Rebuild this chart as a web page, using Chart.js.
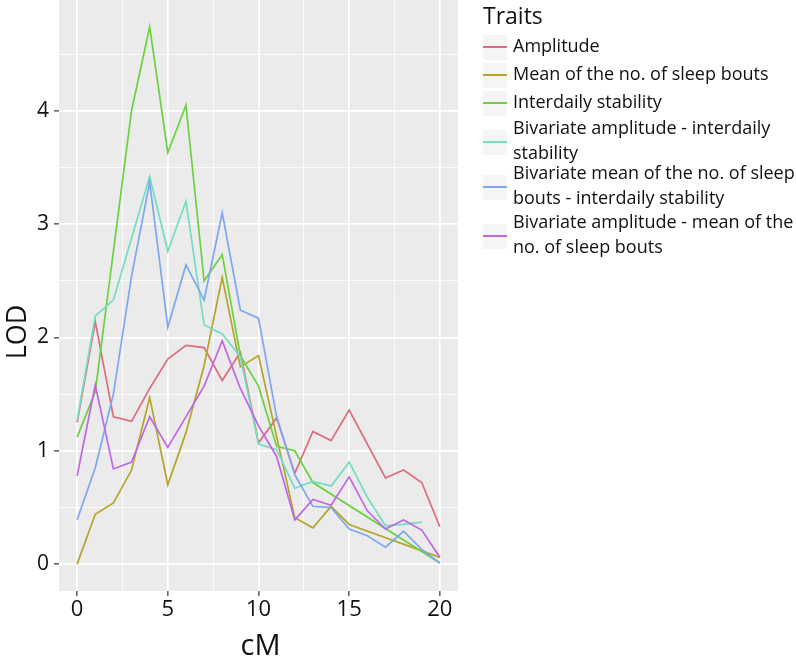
<!DOCTYPE html>
<html>
<head>
<meta charset="utf-8">
<script src="https://cdn.jsdelivr.net/npm/chart.js@4.4.0/dist/chart.umd.min.js"></script>
<style>
  html, body { margin: 0; padding: 0; background: #fff; }
  #wrap { position: relative; width: 796px; height: 656px; overflow: hidden; font-family: 'Open Sans', sans-serif; color: #111; }
  #wrap canvas { position: absolute; left: 0; top: 0; }
  .lg-title { position: absolute; left: 483px; top: 1px; font-size: 23px; line-height: 28px; }
  .lg-key { position: absolute; left: 483px; width: 24px; height: 25px; background: #f5f5f5; }
  .lg-key i { position: absolute; left: 0; right: 0; top: 11px; height: 2px; }
  .lg-text { position: absolute; left: 513px; font-size: 18px; line-height: 25px; white-space: pre; }
</style>
</head>
<body>
<div id="wrap">
  <canvas id="chart" width="796" height="656"></canvas>
  <div id="legend"></div>
</div>
<script>
// ------------------------------------------------------------
// data (LOD against cM)
// ------------------------------------------------------------
const cM = [0, 1, 2, 3, 4, 5, 6, 7, 8, 9, 10, 11, 12, 13, 14, 15, 16, 17, 18, 19, 20];

const amplitude     = [1.25, 2.14, 1.30, 1.26, 1.55, 1.81, 1.93, 1.91, 1.62, 1.87, 1.07, 1.29, 0.80, 1.17, 1.09, 1.36, null, 0.76, 0.83, 0.72, 0.33];
const meanBouts     = [0.00, 0.44, 0.54, 0.83, 1.47, 0.70, 1.16, 1.75, 2.53, 1.74, 1.84, null, 0.41, 0.32, 0.51, 0.35, null, null, null, null, 0.06];
const interdaily    = [1.12, 1.52, null, 4.00, 4.74, 3.63, 4.05, 2.50, 2.73, 1.84, 1.57, 1.04, 1.00, 0.72, null, null, null, null, null, null, 0.01];
const bivAmpInter   = [1.27, 2.19, 2.33, null, 3.42, 2.76, 3.20, 2.11, 2.03, 1.83, 1.06, 1.01, 0.67, 0.73, 0.69, 0.90, 0.59, 0.34, 0.35, 0.37, null];
const bivMeanInter  = [0.39, 0.85, 1.50, 2.54, 3.37, 2.09, 2.64, 2.33, 3.10, 2.24, 2.17, 1.30, 0.79, 0.51, 0.50, 0.31, 0.25, 0.15, 0.29, 0.13, 0.01];
const bivAmpMean    = [0.78, 1.58, 0.84, 0.90, 1.30, 1.03, null, 1.57, 1.97, 1.55, 1.22, 0.95, 0.39, 0.57, 0.52, 0.77, 0.47, 0.31, 0.39, 0.30, 0.06];

const traitNames = [
  'Amplitude',
  'Mean of the no. of sleep bouts',
  'Interdaily stability',
  'Bivariate amplitude - interdaily\nstability',
  'Bivariate mean of the no. of sleep\nbouts - interdaily stability',
  'Bivariate amplitude - mean of the\nno. of sleep bouts',
];

const xTicks = [0, 5, 10, 15, 20];
const xMinor = [2.5, 7.5, 12.5, 17.5];
const yTicks = [0, 1, 2, 3, 4];
const yMinor = [0.5, 1.5, 2.5, 3.5, 4.5];

// ------------------------------------------------------------
// styling
// ------------------------------------------------------------
const series = [amplitude, meanBouts, interdaily, bivAmpInter, bivMeanInter, bivAmpMean];
const colors = ['#de6c7c', '#b5a52a', '#6cd13f', '#72dec3', '#7da7f0', '#be68e8'];
const keyY   = [47, 75, 103, 142, 187, 236];

const datasets = series.map((vals, i) => ({
  label: traitNames[i],
  data: cM.map((x, j) => ({ x, y: vals[j] })).filter(p => p.y !== null),
  borderColor: colors[i],
  borderWidth: 1.7,
  pointRadius: 0,
  tension: 0,
  fill: false,
  order: series.length - i,
}));

const panelBg = {
  id: 'panelBg',
  beforeDraw(chart) {
    const { ctx, chartArea: a } = chart;
    ctx.save();
    ctx.fillStyle = '#ebebeb';
    ctx.fillRect(a.left, a.top, a.right - a.left, a.bottom - a.top);
    ctx.restore();
  }
};

const axisTitles = {
  id: 'axisTitles',
  afterDraw(chart) {
    const { ctx, chartArea: a } = chart;
    ctx.save();
    ctx.fillStyle = '#111';
    ctx.textAlign = 'center';
    ctx.textBaseline = 'alphabetic';
    ctx.font = '29px "Open Sans"';
    ctx.fillText('cM', (a.left + a.right) / 2 + 2, 655);
    ctx.translate(26, 332);
    ctx.rotate(-Math.PI / 2);
    ctx.font = '27px "Open Sans"';
    ctx.fillText('LOD', 0, 0);
    ctx.restore();
  }
};

function setTicks(major, minor) {
  return scale => {
    scale.ticks = major.concat(minor).sort((a, b) => a - b).map(v => ({ value: v }));
  };
}

function gridFor(major) {
  const isMajor = v => major.includes(v);
  return {
    color: '#ffffff',
    lineWidth: c => (c.tick && isMajor(c.tick.value) ? 1.7 : 0.8),
    tickColor: c => (c.tick && isMajor(c.tick.value) ? '#333333' : 'rgba(0,0,0,0)'),
    tickLength: 5,
    tickWidth: 1.2,
  };
}

new Chart(document.getElementById('chart'), {
  type: 'line',
  data: { datasets },
  options: {
    responsive: false,
    animation: false,
    events: [],
    layout: { padding: { left: 0, right: 338, top: 0, bottom: 0 } },
    plugins: { legend: { display: false }, tooltip: { enabled: false } },
    scales: {
      x: {
        type: 'linear',
        min: -1,
        max: 21,
        afterBuildTicks: setTicks(xTicks, xMinor),
        afterFit: s => { s.height = 65; s.paddingLeft = 0; s.paddingRight = 0; },
        grid: gridFor(xTicks),
        border: { display: false },
        ticks: {
          autoSkip: false,
          maxRotation: 0,
          padding: 1,
          color: '#111',
          font: { family: 'Open Sans', size: 22 },
          callback: v => (xTicks.includes(v) ? String(v) : ''),
        },
      },
      y: {
        type: 'linear',
        min: -0.237,
        max: 4.977,
        afterBuildTicks: setTicks(yTicks, yMinor),
        afterFit: s => { s.width = 59; s.paddingTop = 0; s.paddingBottom = 0; },
        grid: gridFor(yTicks),
        border: { display: false },
        ticks: {
          autoSkip: false,
          padding: 5,
          color: '#111',
          font: { family: 'Open Sans', size: 21 },
          callback: v => (yTicks.includes(v) ? String(v) : ''),
        },
      },
    },
  },
  plugins: [panelBg, axisTitles],
});

// ------------------------------------------------------------
// legend (ggplot style, on the right)
// ------------------------------------------------------------
const legend = document.getElementById('legend');
let html = '<div class="lg-title">Traits</div>';
traitNames.forEach((name, i) => {
  const lines = name.split('\n').length;
  const textTop = keyY[i] - 2 - (lines * 25) / 2;
  html += `<div class="lg-key" style="top:${keyY[i] - 12}px"><i style="background:${colors[i]}"></i></div>`;
  html += `<div class="lg-text" style="top:${textTop}px">${name}</div>`;
});
legend.innerHTML = html;
</script>
</body>
</html>
